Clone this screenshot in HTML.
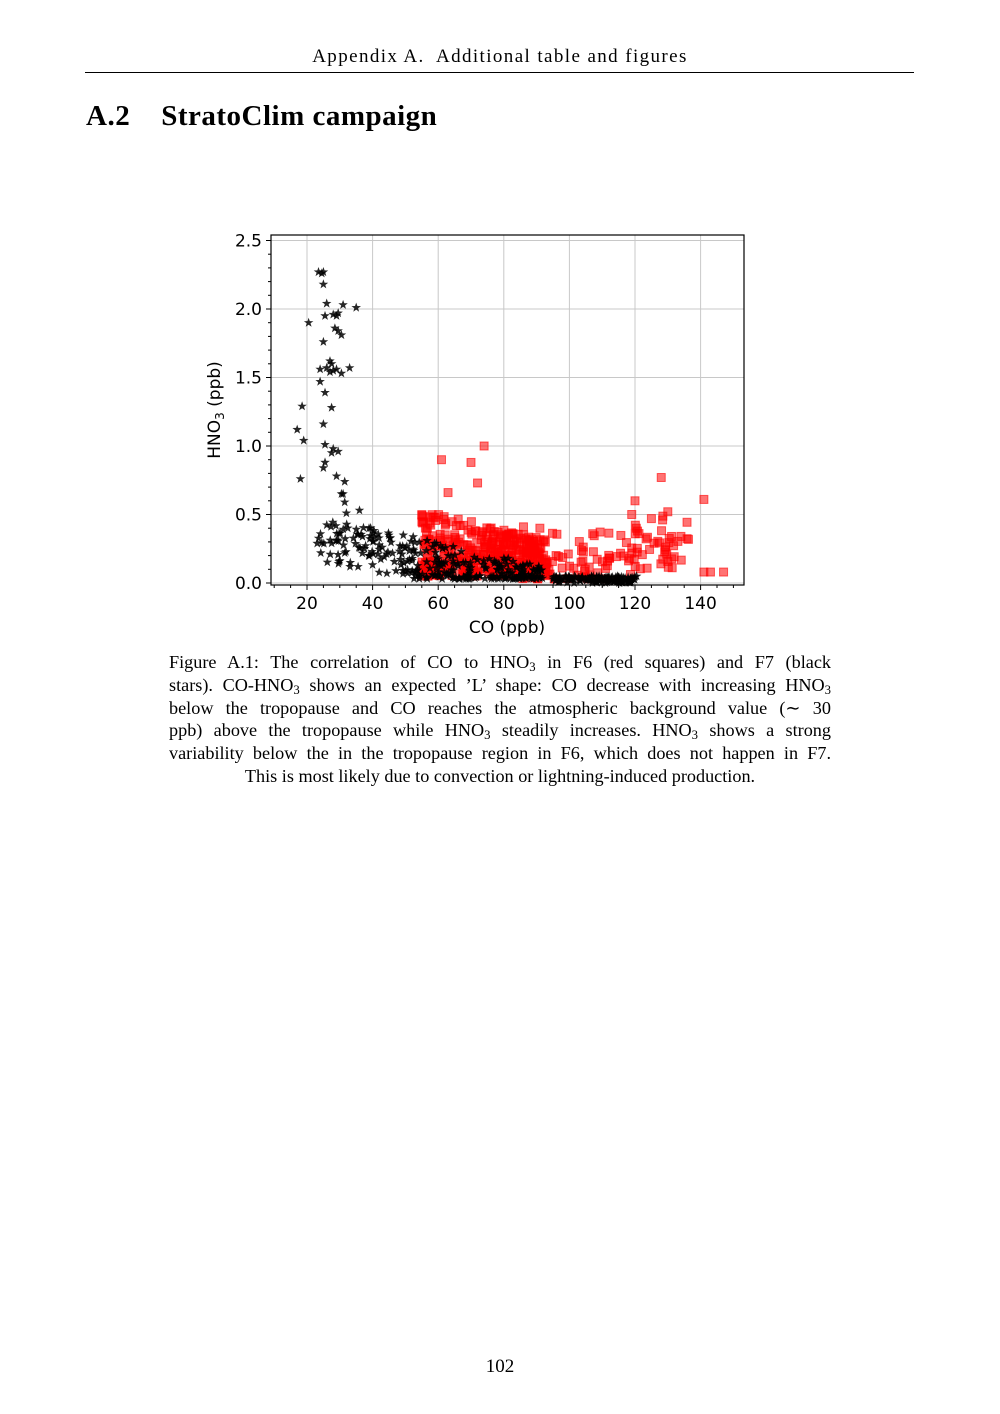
<!DOCTYPE html>
<html><head><meta charset="utf-8"><style>
body{margin:0;background:#fff;}
#pg{position:relative;width:1000px;height:1414px;font-family:"Liberation Serif",serif;color:#000;}
.hdr{position:absolute;top:46px;left:0;width:1000px;text-align:center;font-size:19px;letter-spacing:1.4px;}
.rule{position:absolute;top:72px;left:85px;width:829px;height:1px;background:#000;}
.h2{position:absolute;top:100px;left:86px;font-size:29px;font-weight:bold;letter-spacing:0.5px;}
.cap{position:absolute;top:651px;left:169px;width:662px;font-size:18.2px;line-height:22.8px;}
.cap div{text-align:justify;text-align-last:justify;white-space:nowrap;}
.cap div.last{text-align:center;text-align-last:center;}
.pn{position:absolute;top:1356px;left:0;width:1000px;text-align:center;font-size:19px;}
svg{position:absolute;left:0;top:0;}
sub{font-size:70%;vertical-align:-3px;line-height:0;}
</style></head><body><div id="pg">
<div class="hdr">Appendix A.&nbsp; Additional table and figures</div>
<div class="rule"></div>
<div class="h2">A.2&nbsp;&nbsp;&nbsp; StratoClim campaign</div>
<svg id="plot" width="1000" height="660" font-family="DejaVu Sans, sans-serif"></svg>
<div class="cap">
<div>Figure A.1: The correlation of CO to HNO<sub>3</sub> in F6 (red squares) and F7 (black</div>
<div>stars). CO-HNO<sub>3</sub> shows an expected ’L’ shape: CO decrease with increasing HNO<sub>3</sub></div>
<div>below the tropopause and CO reaches the atmospheric background value (∼ 30</div>
<div>ppb) above the tropopause while HNO<sub>3</sub> steadily increases. HNO<sub>3</sub> shows a strong</div>
<div>variability below the in the tropopause region in F6, which does not happen in F7.</div>
<div class="last">This is most likely due to convection or lightning-induced production.</div>
</div>
<div class="pn">102</div>
</div>
<script>
(function(){
var s=document.getElementById('plot'),h='';
var L=271,R=744,T=235,B=585;
function px(x){return 307+(x-20)*3.28;}
function py(y){return 583-y*137;}
var seed=7;function rnd(){seed=(seed*16807)%2147483647;return seed/2147483647;}
for(var x=20;x<=140;x+=20){var X=px(x);h+='<line x1="'+X+'" y1="'+T+'" x2="'+X+'" y2="'+B+'" stroke="#c8c8c8" stroke-width="1"/>';}
for(var y=0;y<=2.5;y+=0.5){var Y=py(y);h+='<line x1="'+L+'" y1="'+Y+'" x2="'+R+'" y2="'+Y+'" stroke="#c8c8c8" stroke-width="1"/>';}
function sq(x,y){var X=px(x),Y=py(y);h+='<rect x="'+(X-4)+'" y="'+(Y-4)+'" width="8" height="8" fill="#ff0000" fill-opacity="0.55" stroke="#ff0000" stroke-opacity="0.6"/>';}
function st(x,y){var X=px(x),Y=py(y),p=[];for(var i=0;i<10;i++){var r=i%2?2:5,a=-Math.PI/2+i*Math.PI/5;p.push((X+r*Math.cos(a)).toFixed(1)+','+(Y+r*Math.sin(a)).toFixed(1));}h+='<polygon points="'+p.join(' ')+'" fill="#000" fill-opacity="0.85"/>';}
var i;
for(i=0;i<380;i++){var x=55+Math.pow(rnd(),1.2)*38,y=0.05+Math.pow(rnd(),1.3)*0.5*(1-(x-55)/80);sq(x,y);}
for(i=0;i<130;i++){var x=85+rnd()*53,y=0.03+Math.pow(rnd(),1.6)*0.35;if(x>118&&x<136)y+=rnd()*0.15;sq(x,y);}
var ro=[[61,0.9],[70,0.88],[74,1.0],[72,0.73],[63,0.66],[128,0.77],[120,0.6],[141,0.61],[130,0.52],[86,0.41],[91,0.4],[119,0.5],[125,0.47],[134,0.34],[143,0.08],[147,0.08],[141,0.08]];
ro.forEach(function(p){sq(p[0],p[1]);});
var bo=[[23.5,2.27],[25,2.27],[24.5,2.26],[25,2.18],[26,2.04],[31,2.03],[35,2.01],[20.5,1.9],[25.5,1.95],[28,1.96],[29,1.95],[29.5,1.97],[28.5,1.86],[29.5,1.84],[30.5,1.81],[25,1.76],[27,1.62],[27.5,1.6],[26,1.57],[28,1.55],[27,1.54],[29,1.56],[30.5,1.53],[33,1.57],[24,1.56],[24,1.47],[25.5,1.39],[18.5,1.29],[27.5,1.28],[17,1.12],[25,1.16],[19,1.04],[25.5,1.01],[28,0.98],[29.5,0.96],[27.5,0.95],[25.5,0.88],[25,0.84],[18,0.76],[29,0.78],[31.5,0.74],[30.5,0.65],[31,0.65],[31.5,0.59],[32,0.51],[36,0.53]];
bo.forEach(function(p){st(p[0],p[1]);});
for(i=0;i<110;i++){var x=23+rnd()*32,y=0.15+rnd()*0.32-(x-23)*0.004;st(x,y);}
for(i=0;i<180;i++){var x=52+rnd()*40,y=0.03+Math.pow(rnd(),1.8)*0.32*(1-(x-52)/55);st(x,y);}
for(i=0;i<130;i++){var x=95+rnd()*26,y=rnd()*0.05;st(x,y);}
h+='<rect x="'+L+'" y="'+T+'" width="'+(R-L)+'" height="'+(B-T)+'" fill="none" stroke="#000" stroke-width="1.2"/>';
for(var x=10;x<=150;x+=5){var X=px(x);if(X<L||X>R)continue;var big=x%20==0;h+='<line x1="'+X+'" y1="'+B+'" x2="'+X+'" y2="'+(B+(big?5:3))+'" stroke="#000"/>';if(big)h+='<text x="'+X+'" y="'+(B+24)+'" font-size="17" text-anchor="middle">'+x+'</text>';}
for(var k=0;k<=25;k++){var y=k/10,Y=py(y);var big=k%5==0;h+='<line x1="'+(L-(big?5:3))+'" y1="'+Y+'" x2="'+L+'" y2="'+Y+'" stroke="#000"/>';if(big)h+='<text x="'+(L-9)+'" y="'+(Y+6)+'" font-size="17" text-anchor="end">'+y.toFixed(1)+'</text>';}
h+='<text x="507" y="633" font-size="17" text-anchor="middle">CO (ppb)</text>';
h+='<text transform="translate(220,410) rotate(-90)" font-size="17" text-anchor="middle">HNO<tspan font-size="12" dy="4">3</tspan><tspan dy="-4"> (ppb)</tspan></text>';
s.innerHTML=h;
})();
</script>
</body></html>
